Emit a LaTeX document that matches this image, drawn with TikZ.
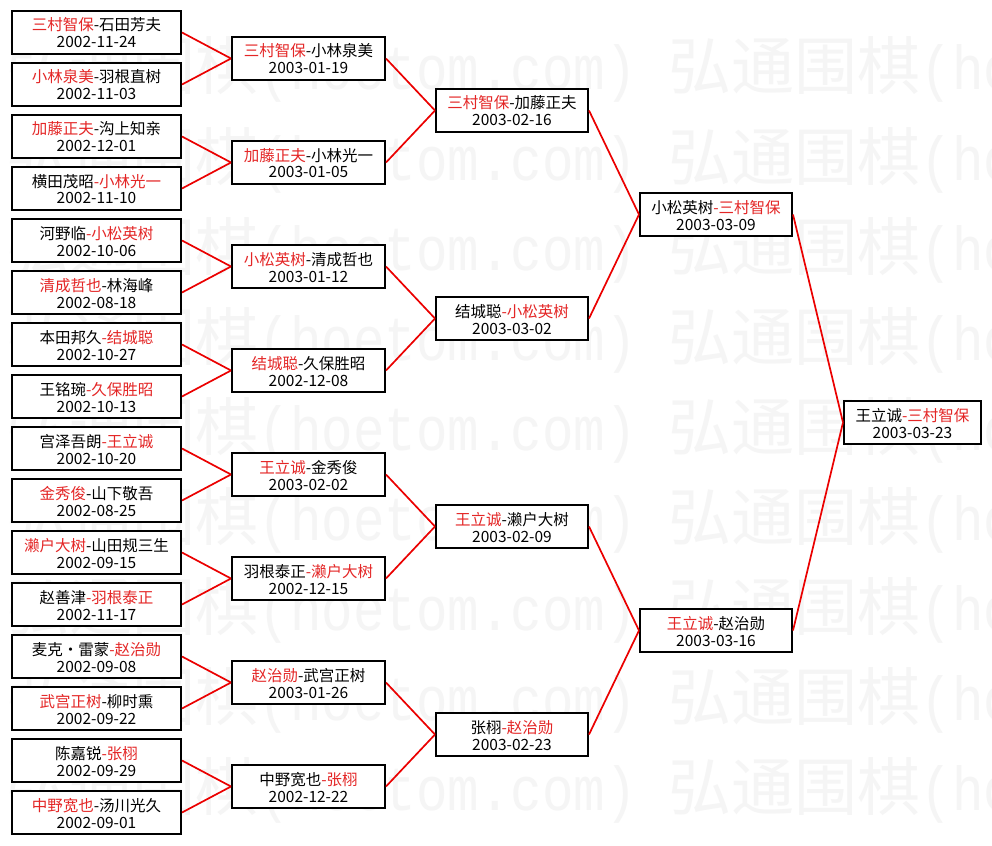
\documentclass[tikz,border=0pt]{standalone}
\usepackage{fontspec}
\usepackage{graphicx}
\setmainfont{Noto Sans CJK SC}
\newfontfamily\wmlat{Liberation Mono}
\definecolor{nr}{RGB}{228,38,38}
\definecolor{lr}{RGB}{235,0,0}
\definecolor{wm}{RGB}{245,245,245}
\newcommand\wmunit{{\fontsize{63}{63}\selectfont 弘通围棋}\scalebox{0.847}[1]{\wmlat\fontsize{62}{62}\selectfont (hoetom.com)}\hspace*{31.5pt}}
\newcommand\rn[1]{\textcolor{nr}{#1}}
\newcommand\two[2]{\rule{0pt}{16pt}#1\\#2\rule[-2pt]{0pt}{2pt}}
\begin{document}
\begin{tikzpicture}[x=1pt,y=-1pt,
  pbox/.style={draw=black, line width=2pt, fill=white, inner sep=0pt,
    minimum height=43pt, align=center, text=black,
    font=\fontsize{15.5}{17}\selectfont},
  wa/.style={pbox, minimum width=169pt},
  wb/.style={pbox, minimum width=153pt},
  wc/.style={pbox, minimum width=152pt},
  wd/.style={pbox, minimum width=137pt},
  conn/.style={draw=lr, line width=1.7pt},
  wmtext/.style={anchor=base west, inner sep=0pt, text=wm}]
\useasboundingbox (0,0) rectangle (992,845);
\fill[white] (0,0) rectangle (992,845);
\begin{scope}
\clip (0,0) rectangle (992,845);
\foreach \k in {0,...,8}{
  \node[wmtext] (wm\k) at (-655,{90+90*\k}) {\wmunit\wmunit\wmunit};
}
\end{scope}
% column 1
\node[wa] (c1-1)  at (96.5,32.5)  {\two{\rn{三村智保}-石田芳夫}{2002-11-24}};
\node[wa] (c1-2)  at (96.5,84.5)  {\two{\rn{小林泉美}-羽根直树}{2002-11-03}};
\node[wa] (c1-3)  at (96.5,136.5) {\two{\rn{加藤正夫}-沟上知亲}{2002-12-01}};
\node[wa] (c1-4)  at (96.5,188.5) {\two{横田茂昭\rn{-小林光一}}{2002-11-10}};
\node[wa] (c1-5)  at (96.5,240.5) {\two{河野临\rn{-小松英树}}{2002-10-06}};
\node[wa] (c1-6)  at (96.5,292.5) {\two{\rn{清成哲也}-林海峰}{2002-08-18}};
\node[wa] (c1-7)  at (96.5,344.5) {\two{本田邦久\rn{-结城聪}}{2002-10-27}};
\node[wa] (c1-8)  at (96.5,396.5) {\two{王铭琬\rn{-久保胜昭}}{2002-10-13}};
\node[wa] (c1-9)  at (96.5,448.5) {\two{宫泽吾朗\rn{-王立诚}}{2002-10-20}};
\node[wa] (c1-10) at (96.5,500.5) {\two{\rn{金秀俊}-山下敬吾}{2002-08-25}};
\node[wa] (c1-11) at (96.5,552.5) {\two{\rn{濑户大树}-山田规三生}{2002-09-15}};
\node[wa] (c1-12) at (96.5,604.5) {\two{赵善津\rn{-羽根泰正}}{2002-11-17}};
\node[wa] (c1-13) at (96.5,656.5) {\two{麦克・雷蒙\rn{-赵治勋}}{2002-09-08}};
\node[wa] (c1-14) at (96.5,708.5) {\two{\rn{武宫正树}-柳时熏}{2002-09-22}};
\node[wa] (c1-15) at (96.5,760.5) {\two{陈嘉锐\rn{-张栩}}{2002-09-29}};
\node[wa] (c1-16) at (96.5,812.5) {\two{\rn{中野宽也}-汤川光久}{2002-09-01}};
% column 2
\node[wb] (c2-1) at (308.5,58.5)  {\two{\rn{三村智保}-小林泉美}{2003-01-19}};
\node[wb] (c2-2) at (308.5,162.5) {\two{\rn{加藤正夫}-小林光一}{2003-01-05}};
\node[wb] (c2-3) at (308.5,266.5) {\two{\rn{小松英树}-清成哲也}{2003-01-12}};
\node[wb] (c2-4) at (308.5,370.5) {\two{\rn{结城聪}-久保胜昭}{2002-12-08}};
\node[wb] (c2-5) at (308.5,474.5) {\two{\rn{王立诚}-金秀俊}{2003-02-02}};
\node[wb] (c2-6) at (308.5,578.5) {\two{羽根泰正\rn{-濑户大树}}{2002-12-15}};
\node[wb] (c2-7) at (308.5,682.5) {\two{\rn{赵治勋}-武宫正树}{2003-01-26}};
\node[wb] (c2-8) at (308.5,786.5) {\two{中野宽也\rn{-张栩}}{2002-12-22}};
% column 3
\node[wc] (c3-1) at (512,110.5) {\two{\rn{三村智保}-加藤正夫}{2003-02-16}};
\node[wc] (c3-2) at (512,318.5) {\two{结城聪\rn{-小松英树}}{2003-03-02}};
\node[wc] (c3-3) at (512,526.5) {\two{\rn{王立诚}-濑户大树}{2003-02-09}};
\node[wc] (c3-4) at (512,734.5) {\two{张栩\rn{-赵治勋}}{2003-02-23}};
% column 4
\node[wc] (c4-1) at (716,214.5) {\two{小松英树\rn{-三村智保}}{2003-03-09}};
\node[wc] (c4-2) at (716,630.5) {\two{\rn{王立诚}-赵治勋}{2003-03-16}};
% column 5
\node[wd] (c5-1) at (912.5,422.5) {\two{王立诚\rn{-三村智保}}{2003-03-23}};
% connectors
\foreach \i in {1,...,16}{
  \pgfmathtruncatemacro\j{(\i+1)/2}
  \draw[conn] (c1-\i.east) -- (c2-\j.west);
}
\foreach \i in {1,...,8}{
  \pgfmathtruncatemacro\j{(\i+1)/2}
  \draw[conn] (c2-\i.east) -- (c3-\j.west);
}
\foreach \i in {1,...,4}{
  \pgfmathtruncatemacro\j{(\i+1)/2}
  \draw[conn] (c3-\i.east) -- (c4-\j.west);
}
\foreach \i in {1,2}{
  \draw[conn] (c4-\i.east) -- (c5-1.west);
}
\end{tikzpicture}
\end{document}
